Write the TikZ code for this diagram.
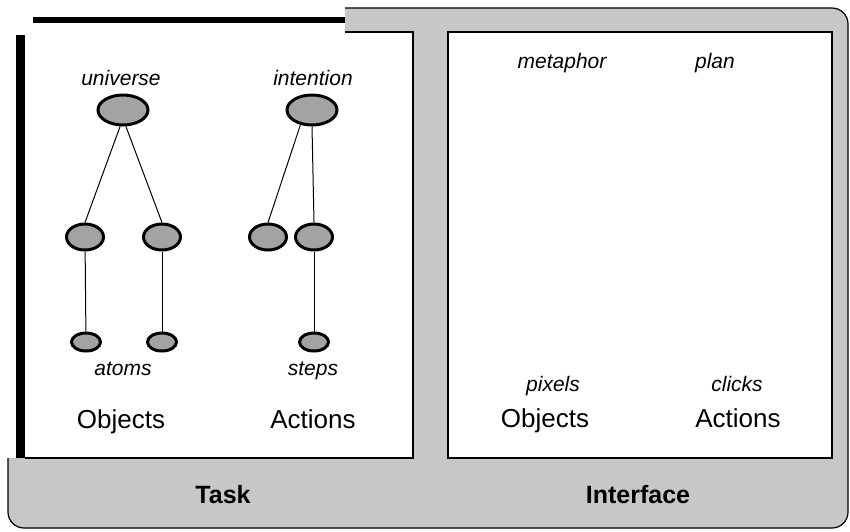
\documentclass[tikz,border=0pt]{standalone}
\usepackage{fontspec}
\setmainfont{Liberation Sans}
\usetikzlibrary{shapes.geometric}
\begin{document}
\begin{tikzpicture}[x=0.5pt,y=-0.5pt,
  blob/.style={ellipse,draw,line width=1.5pt,fill=black!36,inner sep=0pt},
  bigblob/.style={blob,minimum width=25pt,minimum height=15pt},
  midblob/.style={blob,minimum width=18.5pt,minimum height=13pt},
  smallblob/.style={blob,minimum width=14.5pt,minimum height=9pt},
  tag/.style={anchor=base,font=\itshape\fontsize{10.5}{12}\selectfont},
  head/.style={anchor=base,font=\fontsize{13}{15}\selectfont},
  band/.style={anchor=base,font=\bfseries\fontsize{12.5}{14}\selectfont},
  link/.style={line width=0.5pt}]
\useasboundingbox (0,0) rectangle (850,531);
% frame and panels
\draw[fill=black!22,line width=0.6pt,rounded corners=8pt] (8,8) rectangle (848,528);
\fill[white] (0,0) rectangle (345,458);
\fill[white] (25,32) rectangle (413,458);
\draw[line width=1pt] (345,32) -- (413,32) -- (413,458) -- (25,458);
\fill (33,17) rectangle (345,23);
\fill (16,35) rectangle (25,458);
\draw[fill=white,line width=1pt] (448,32) rectangle (832,458);
% task side
\node[tag] (tuniv) at (121,85) {universe};
\node[bigblob] (universe) at (123,110) {};
\node[tag] (tint) at (313,85) {intention};
\node[bigblob] (intention) at (312,110) {};
\node[midblob] (objA) at (85,237) {};
\node[midblob] (objB) at (162,237) {};
\node[midblob] (actA) at (268,237) {};
\node[midblob] (actB) at (314,237) {};
\node[smallblob] (atomA) at (86,342) {};
\node[smallblob] (atomB) at (162,342) {};
\node[smallblob] (stepA) at (314,342) {};
\node[tag] (tatoms) at (123,375) {atoms};
\node[tag] (tsteps) at (313,375) {steps};
\node[head] (tobj) at (121,428) {Objects};
\node[head] (tact) at (313,428) {Actions};
\draw[link] (universe.-100) -- (objA.north);
\draw[link] (universe.-80) -- (objB.north);
\draw[link] (intention.-128) -- (actA.north);
\draw[link] (intention.south) -- (actB.north);
\draw[link] (objA) -- (atomA);
\draw[link] (objB) -- (atomB);
\draw[link] (actB) -- (stepA);
% interface side
\node[tag] (tmeta) at (562,68) {metaphor};
\node[tag] (tplan) at (715,68) {plan};
\node[tag] (tpix) at (553,391) {pixels};
\node[tag] (tclick) at (737,391) {clicks};
\node[head] (iobj) at (545,427) {Objects};
\node[head] (iact) at (738,427) {Actions};
% band labels
\node[band] (ttask) at (223,503) {Task};
\node[band] (tiface) at (638,503) {Interface};
\end{tikzpicture}
\end{document}
